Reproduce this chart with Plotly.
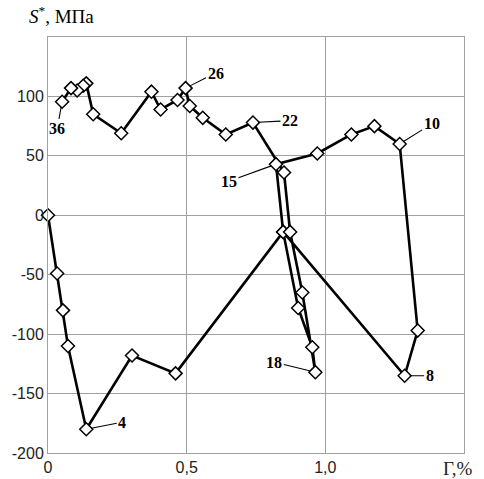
import plotly.graph_objects as go

# Path of the loading trajectory (Γ, % ; S*, MPa)
gamma = [0.0, 0.033, 0.054, 0.072, 0.138, 0.303, 0.46, 0.848, 1.286, 1.333,
         1.268, 1.177, 1.094, 0.971, 0.822, 0.848, 0.902, 0.953, 0.964, 0.917,
         0.873, 0.851, 0.739, 0.641, 0.558, 0.511, 0.496, 0.467, 0.406, 0.373,
         0.264, 0.163, 0.138, 0.127, 0.105, 0.083, 0.051]
stress = [0, -49, -80, -110, -180, -118, -133, -14, -135, -97,
          60, 75, 68, 52, 43, -14, -78, -111, -132, -65,
          -14, 36, 78, 68, 82, 92, 107, 97, 89, 104,
          69, 85, 111, 109, 105, 107, 95.5]

# point labels: text, index into the path, text offset (px)
label_text = ["4", "8", "10", "15", "18", "22", "26", "36"]
label_idx = [4, 8, 10, 14, 18, 22, 26, 36]
label_ax = [36, 25, 32, -47, -41, 37, 30, -5]
label_ay = [-7, 0, -20, 17, -10, -2, -15, 27]

x_ticks = [0, 0.5, 1.0]
x_ticktext = ["0", "0,5", "1,0"]
x_title = "Γ,%"
y_ticks = [-200, -150, -100, -50, 0, 50, 100]
y_ticktext = ["-200", "-150", "-100", "-50", "0", "50", "100"]

fig = go.Figure()
fig.add_trace(go.Scatter(
    x=gamma, y=stress, mode="lines+markers",
    line=dict(color="black", width=2.6),
    marker=dict(symbol="diamond", size=10, color="white",
                line=dict(color="black", width=1.5)),
    showlegend=False, cliponaxis=False, hoverinfo="skip",
))

for t, i, ax, ay in zip(label_text, label_idx, label_ax, label_ay):
    fig.add_annotation(
        x=gamma[i], y=stress[i], text=f"<b>{t}</b>",
        showarrow=True, arrowhead=0, arrowwidth=1.1, arrowcolor="black",
        ax=ax, ay=ay, standoff=5,
        font=dict(family="Liberation Serif", size=16, color="black"),
    )

fig.add_annotation(
    xref="paper", yref="paper", x=-0.05, y=1.02, xanchor="left", yanchor="bottom",
    text="<i>S</i><sup>*</sup>, МПа", showarrow=False,
    font=dict(family="Liberation Serif", size=19, color="black"),
)
fig.add_annotation(
    xref="paper", yref="paper", x=0.985, y=0, xanchor="center", yanchor="top",
    yshift=-3, text=x_title, showarrow=False,
    font=dict(family="Liberation Serif", size=19, color="#222"),
)

grid = "#a0a0a0"
fig.update_xaxes(
    range=[0, 1.5], tickvals=x_ticks, ticktext=x_ticktext,
    showgrid=True, gridcolor=grid, gridwidth=1,
    showline=True, linecolor=grid, linewidth=1, mirror=True,
    zeroline=False, ticks="", automargin=False,
    tickfont=dict(family="Liberation Sans", size=16, color="#222"),
)
fig.update_yaxes(
    range=[-200, 150], tickvals=y_ticks, ticktext=y_ticktext,
    showgrid=True, gridcolor=grid, gridwidth=1,
    showline=True, linecolor=grid, linewidth=1, mirror=True,
    zeroline=False, ticks="", automargin=False,
    tickfont=dict(family="Liberation Sans", size=16, color="#222"),
)
fig.update_layout(
    width=484, height=479,
    margin=dict(l=48, r=20, t=37, b=26),
    paper_bgcolor="white", plot_bgcolor="white",
    hovermode=False,
)
fig.write_html("out.html", config={"displayModeBar": False},
               post_script="document.body.style.margin='0';")
